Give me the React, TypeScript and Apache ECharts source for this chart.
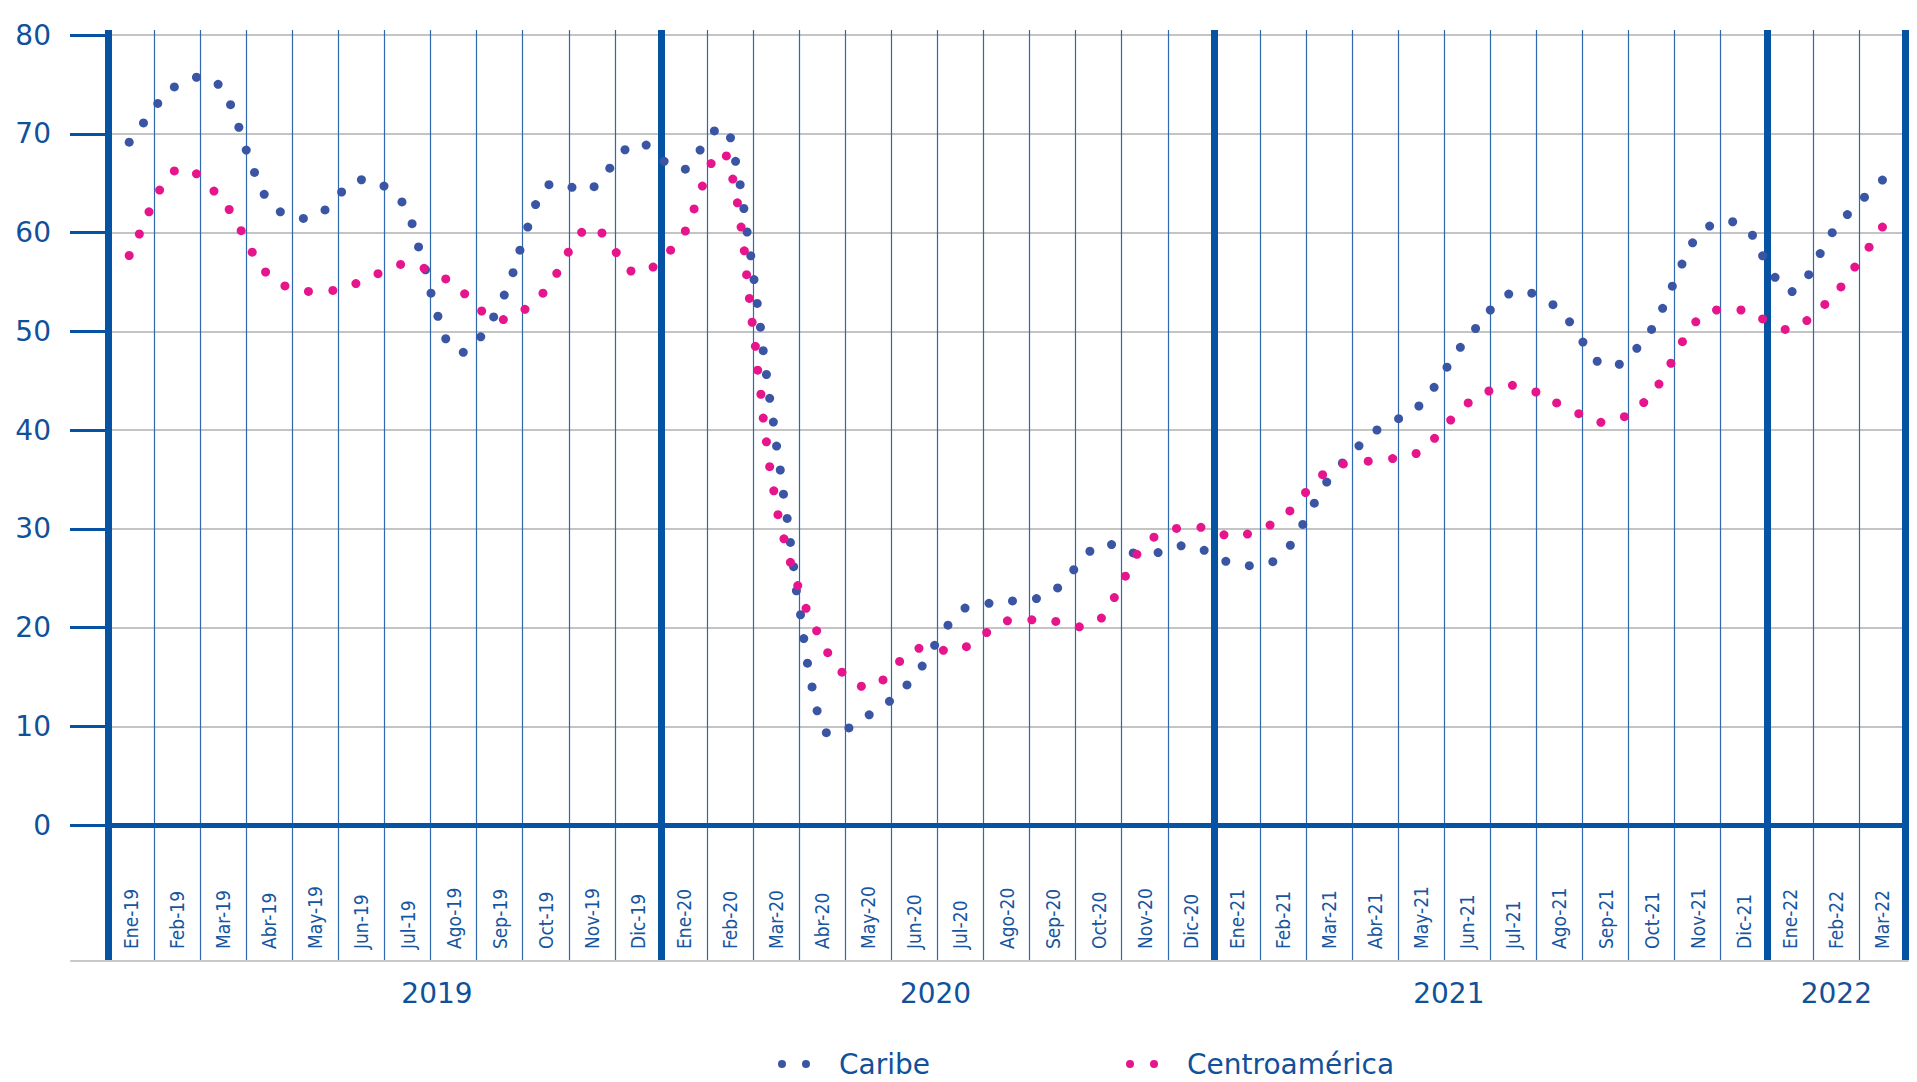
import React, { useEffect, useRef } from "react";
import * as echarts from "echarts";

// x = position in months since Ene-19 (0 = start of Ene-19), y = value
const caribe: [number, number][] = [
  [0.46, 69.15], [0.77, 71.1], [1.08, 73.07], [1.44, 74.74], [1.92, 75.72], [2.39, 75.01], [2.66, 72.94], [2.84, 70.66],
  [3.0, 68.35], [3.18, 66.08], [3.39, 63.87], [3.74, 62.09], [4.24, 61.42], [4.71, 62.29], [5.07, 64.1], [5.5, 65.34],
  [5.99, 64.7], [6.38, 63.1], [6.6, 60.89], [6.74, 58.54], [6.89, 56.23], [7.01, 53.86], [7.16, 51.52], [7.33, 49.24],
  [7.71, 47.87], [8.09, 49.44], [8.37, 51.45], [8.6, 53.66], [8.79, 55.93], [8.94, 58.21], [9.11, 60.55], [9.28, 62.83],
  [9.57, 64.84], [10.07, 64.57], [10.55, 64.64], [10.89, 66.51], [11.22, 68.38], [11.68, 68.85], [12.07, 67.21],
  [12.53, 66.41], [12.85, 68.35], [13.16, 70.29], [13.51, 69.59], [13.62, 67.21], [13.72, 64.84], [13.8, 62.43],
  [13.87, 60.05], [13.95, 57.64], [14.02, 55.23], [14.09, 52.82], [14.16, 50.41], [14.22, 48.03], [14.29, 45.62],
  [14.36, 43.21], [14.44, 40.8], [14.51, 38.37], [14.59, 35.95], [14.66, 33.5], [14.74, 31.05], [14.81, 28.61],
  [14.88, 26.16], [14.94, 23.71], [15.03, 21.29], [15.1, 18.88], [15.18, 16.39], [15.28, 13.98], [15.39, 11.56],
  [15.59, 9.35], [16.08, 9.83], [16.52, 11.16], [16.96, 12.52], [17.34, 14.18], [17.67, 16.09], [17.94, 18.2],
  [18.23, 20.24], [18.6, 21.97], [19.12, 22.45], [19.63, 22.69], [20.15, 22.93], [20.61, 24.01], [20.96, 25.85],
  [21.31, 27.72], [21.78, 28.4], [22.25, 27.55], [22.79, 27.59], [23.29, 28.27], [23.79, 27.82], [24.26, 26.7],
  [24.77, 26.26], [25.28, 26.67], [25.66, 28.33], [25.93, 30.44], [26.18, 32.59], [26.45, 34.73], [26.79, 36.67],
  [27.15, 38.4], [27.54, 40.0], [28.01, 41.15], [28.45, 42.43], [28.78, 44.32], [29.06, 46.36], [29.35, 48.37],
  [29.68, 50.28], [30.0, 52.15], [30.4, 53.76], [30.9, 53.86], [31.36, 52.69], [31.72, 50.95], [32.01, 48.9],
  [32.32, 46.96], [32.8, 46.66], [33.18, 48.27], [33.5, 50.18], [33.74, 52.32], [33.95, 54.56], [34.16, 56.8],
  [34.39, 58.95], [34.76, 60.65], [35.26, 61.09], [35.69, 59.72], [35.91, 57.64], [36.18, 55.46], [36.55, 54.02],
  [36.91, 55.73], [37.16, 57.87], [37.42, 59.98], [37.75, 61.82], [38.12, 63.57], [38.51, 65.31],
];

const centroamerica: [number, number][] = [
  [0.46, 57.67], [0.68, 59.85], [0.89, 62.09], [1.12, 64.3], [1.44, 66.24], [1.92, 65.94], [2.3, 64.2], [2.63, 62.33],
  [2.89, 60.18], [3.13, 58.01], [3.42, 56.0], [3.84, 54.59], [4.35, 54.03], [4.88, 54.13], [5.38, 54.83], [5.86, 55.83],
  [6.35, 56.77], [6.86, 56.37], [7.33, 55.3], [7.74, 53.79], [8.11, 52.05], [8.58, 51.18], [9.05, 52.22], [9.44, 53.86],
  [9.74, 55.87], [9.99, 58.01], [10.28, 60.02], [10.72, 59.95], [11.03, 57.97], [11.35, 56.1], [11.83, 56.5],
  [12.21, 58.21], [12.53, 60.15], [12.72, 62.39], [12.9, 64.7], [13.09, 66.98], [13.42, 67.75], [13.56, 65.41],
  [13.66, 63.0], [13.74, 60.55], [13.81, 58.14], [13.86, 55.73], [13.92, 53.32], [13.98, 50.91], [14.05, 48.47],
  [14.1, 46.06], [14.17, 43.62], [14.22, 41.21], [14.29, 38.8], [14.36, 36.29], [14.45, 33.84], [14.54, 31.43],
  [14.67, 28.98], [14.81, 26.6], [14.97, 24.25], [15.15, 21.94], [15.38, 19.66], [15.62, 17.45], [15.93, 15.48],
  [16.35, 14.05], [16.82, 14.69], [17.18, 16.56], [17.6, 17.89], [18.13, 17.69], [18.63, 18.06], [19.07, 19.49],
  [19.52, 20.68], [20.05, 20.78], [20.57, 20.61], [21.08, 20.07], [21.56, 20.95], [21.84, 23.03], [22.08, 25.2],
  [22.33, 27.41], [22.7, 29.15], [23.19, 30.03], [23.72, 30.14], [24.22, 29.39], [24.73, 29.46], [25.22, 30.37],
  [25.65, 31.8], [25.99, 33.67], [26.36, 35.48], [26.81, 36.56], [27.35, 36.84], [27.88, 37.11], [28.39, 37.62],
  [28.79, 39.16], [29.14, 41.01], [29.52, 42.74], [29.97, 43.95], [30.48, 44.52], [30.99, 43.85], [31.44, 42.74],
  [31.92, 41.65], [32.4, 40.78], [32.91, 41.35], [33.33, 42.78], [33.66, 44.65], [33.92, 46.76], [34.17, 48.94],
  [34.46, 50.95], [34.91, 52.15], [35.44, 52.15], [35.91, 51.25], [36.4, 50.18], [36.87, 51.08], [37.26, 52.72],
  [37.61, 54.49], [37.91, 56.5], [38.22, 58.51], [38.51, 60.55],
];

const monthLabels: string[] = [
  "Ene-19", "Feb-19", "Mar-19", "Abr-19", "May-19", "Jun-19", "Jul-19", "Ago-19", "Sep-19", "Oct-19", "Nov-19", "Dic-19",
  "Ene-20", "Feb-20", "Mar-20", "Abr-20", "May-20", "Jun-20", "Jul-20", "Ago-20", "Sep-20", "Oct-20", "Nov-20", "Dic-20",
  "Ene-21", "Feb-21", "Mar-21", "Abr-21", "May-21", "Jun-21", "Jul-21", "Ago-21", "Sep-21", "Oct-21", "Nov-21", "Dic-21",
  "Ene-22", "Feb-22", "Mar-22",
];

const yearLabels: string[] = ["2019", "2020", "2021", "2022"];
const yearLabelAt: number[] = [7.14, 17.96, 29.1, 37.51];
const yearBoundaries: number[] = [0, 12, 24, 36, 39];
const yTicks = { min: 0, max: 80, interval: 10 };

const BLUE = "#0653a3";
const TEXT = "#11519a";
const SANS = "DejaVu Sans";
const NARROW = "'Liberation Sans Narrow', 'DejaVu Sans Condensed', 'Liberation Sans', sans-serif";

const twoDots =
  "path://M0,4a4,4 0 1,0 8,0a4,4 0 1,0 -8,0Z M24,4a4,4 0 1,0 8,0a4,4 0 1,0 -8,0Z";

export default function App() {
  const ref = useRef<HTMLDivElement>(null);

  useEffect(() => {
    if (!ref.current) return;
    const chart = echarts.init(ref.current, undefined, { renderer: "svg" });
    const nMonths = monthLabels.length;

    const option: any = {
      animation: false,
      backgroundColor: "#ffffff",
      grid: [
        { left: 108, top: 35, width: 1797, height: 790 }, // plot
        { left: 108, top: 30, width: 1797, height: 930 }, // frame + month labels
        { left: 71, top: 960, width: 1837, height: 1 }, // baseline
        { left: 108, top: 960, width: 1797, height: 1 }, // year labels
      ],
      legend: {
        data: ["Caribe", "Centroamérica"],
        left: 773,
        top: 1045,
        icon: twoDots,
        itemWidth: 32,
        itemHeight: 8,
        itemGap: 196,
        textStyle: { fontFamily: SANS, fontSize: 28, color: TEXT, padding: [0, 0, 0, 24] },
      },
      xAxis: [
        {
          gridIndex: 0,
          type: "value",
          min: 0,
          max: nMonths,
          axisLine: { show: true, lineStyle: { color: BLUE, width: 5 } },
          axisTick: { show: false },
          axisLabel: { show: false },
          splitLine: { show: false },
        },
        {
          gridIndex: 1,
          type: "value",
          min: 0,
          max: nMonths,
          interval: 1,
          axisLine: { show: false },
          axisTick: { show: false },
          axisLabel: { show: false },
          splitLine: { show: true, lineStyle: { color: "#2f68ad", width: 1.2 } },
        },
        {
          gridIndex: 1,
          type: "category",
          position: "bottom",
          data: monthLabels,
          boundaryGap: true,
          axisLine: { show: false },
          axisTick: { show: false },
          splitLine: { show: false },
          axisLabel: {
            interval: 0,
            rotate: 90,
            inside: true,
            margin: 11,
            fontSize: 19,
            fontFamily: NARROW,
            color: "#17569f",
          },
        },
        {
          gridIndex: 2,
          type: "value",
          min: 0,
          max: 1,
          axisLine: { show: true, lineStyle: { color: "#c8c8c8", width: 2 } },
          axisTick: { show: false },
          axisLabel: { show: false },
          splitLine: { show: false },
        },
        {
          gridIndex: 3,
          type: "value",
          min: 0,
          max: nMonths,
          axisLine: { show: false },
          axisTick: { show: false },
          splitLine: { show: false },
          axisLabel: {
            customValues: yearLabelAt,
            formatter: (v: number) => {
              const i = yearLabelAt.findIndex((p) => Math.abs(p - v) < 1e-6);
              return i >= 0 ? yearLabels[i] : "";
            },
            margin: 18,
            fontSize: 28,
            fontFamily: SANS,
            color: TEXT,
          },
        },
      ],
      yAxis: [
        {
          gridIndex: 0,
          type: "value",
          min: yTicks.min,
          max: yTicks.max,
          interval: yTicks.interval,
          axisLine: { show: false },
          axisTick: { show: true, length: 38, lineStyle: { color: BLUE, width: 3 } },
          axisLabel: { margin: 57, fontSize: 28, fontFamily: SANS, color: TEXT },
          splitLine: { show: true, lineStyle: { color: "#b0b0b0", width: 1.5 } },
        },
        { gridIndex: 1, type: "value", min: 0, max: 1, show: false },
        { gridIndex: 2, type: "value", min: 0, max: 1, show: false },
        { gridIndex: 3, type: "value", min: 0, max: 1, show: false },
      ],
      series: [
        {
          name: "frame",
          type: "line",
          xAxisIndex: 1,
          yAxisIndex: 1,
          data: [[0, 0.5]],
          showSymbol: false,
          lineStyle: { opacity: 0 },
          silent: true,
          z: 4,
          markLine: {
            silent: true,
            symbol: ["none", "none"],
            label: { show: false },
            lineStyle: { color: BLUE, width: 7, type: "solid" },
            data: yearBoundaries.map((x) => ({ xAxis: x })),
          },
        },
        {
          name: "Caribe",
          type: "scatter",
          xAxisIndex: 0,
          yAxisIndex: 0,
          data: caribe,
          symbolSize: 9,
          itemStyle: { color: "#3b55a5", opacity: 1 },
          z: 10,
        },
        {
          name: "Centroamérica",
          type: "scatter",
          xAxisIndex: 0,
          yAxisIndex: 0,
          data: centroamerica,
          symbolSize: 9,
          itemStyle: { color: "#e6158b", opacity: 1 },
          z: 11,
        },
      ],
    };

    chart.setOption(option);
    return () => chart.dispose();
  }, []);

  return (
    <div
      ref={ref}
      style={{ position: "fixed", left: 0, top: 0, width: 1917, height: 1082, background: "#fff" }}
    />
  );
}
